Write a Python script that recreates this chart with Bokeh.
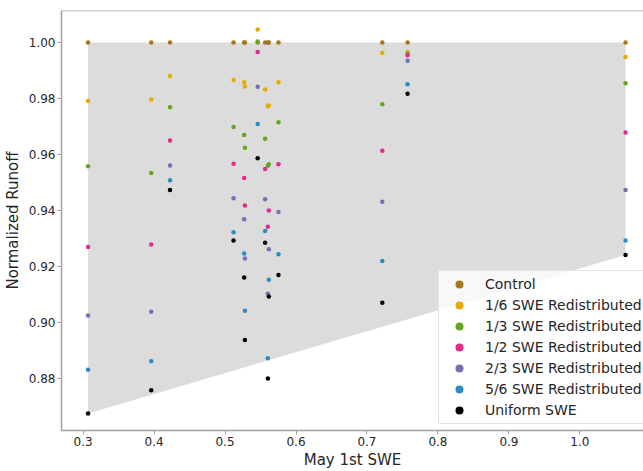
from bokeh.plotting import figure
from bokeh.models import Range1d, FixedTicker, Legend, LegendItem, Span
from bokeh.embed import file_html
from bokeh.resources import INLINE

# ---- data ----
may1_swe = [0.307, 0.396, 0.4225, 0.512, 0.527, 0.528, 0.546, 0.5565, 0.5603, 0.5617, 0.5753, 0.7216, 0.7572, 1.0643]
control = [1.0, 1.0, 1.0, 1.0, 1.0, 1.0, 1.0, 1.0, 1.0, 1.0, 1.0, 1.0, 1.0, 1.0]
swe_1_6 = [0.9791, 0.9796, 0.9880, 0.9866, 0.9858, 0.9843, 1.0046, 0.9832, 0.9772, 0.9775, 0.9858, 0.9962, 0.9966, 0.9948]
swe_1_3 = [0.9558, 0.9534, 0.9769, 0.9698, 0.9670, 0.9624, 1.0003, 0.9656, 0.9560, 0.9565, 0.9715, 0.9779, 0.9960, 0.9854]
swe_1_2 = [0.9270, 0.9279, 0.9650, 0.9567, 0.9516, 0.9418, 0.9966, 0.9548, 0.9342, 0.9400, 0.9565, 0.9613, 0.9954, 0.9679]
swe_2_3 = [0.9025, 0.9039, 0.9561, 0.9444, 0.9369, 0.9229, 0.9842, 0.9440, 0.9103, 0.9262, 0.9395, 0.9431, 0.9935, 0.9473]
swe_5_6 = [0.8832, 0.8862, 0.9508, 0.9323, 0.9247, 0.9042, 0.9709, 0.9327, 0.8873, 0.9153, 0.9244, 0.9220, 0.9851, 0.9293]
uniform = [0.8676, 0.8759, 0.9473, 0.9293, 0.9161, 0.8938, 0.9587, 0.9285, 0.8801, 0.9093, 0.9170, 0.9071, 0.9817, 0.9241]

series_names = ["Control", "1/6 SWE Redistributed", "1/3 SWE Redistributed",
                "1/2 SWE Redistributed", "2/3 SWE Redistributed",
                "5/6 SWE Redistributed", "Uniform SWE"]
series_values = [control, swe_1_6, swe_1_3, swe_1_2, swe_2_3, swe_5_6, uniform]
series_colors = ["#a6761d", "#e6ab02", "#66a61e", "#e7298a", "#7570b3", "#2b8cc4", "#000000"]

x_ticks = [0.3, 0.4, 0.5, 0.6, 0.7, 0.8, 0.9, 1.0]
x_tick_labels = ["0.3", "0.4", "0.5", "0.6", "0.7", "0.8", "0.9", "1.0"]
y_ticks = [0.88, 0.90, 0.92, 0.94, 0.96, 0.98, 1.00]
y_tick_labels = ["0.88", "0.90", "0.92", "0.94", "0.96", "0.98", "1.00"]

FONT = "DejaVu Sans"
SPINE = "#a0a0a0"
TXT = "#262626"

p = figure(width=643, height=471,
           x_range=Range1d(0.2696, 1.0896), y_range=Range1d(0.8615, 1.0114),
           output_backend="svg", toolbar_location=None,
           min_border_left=60, min_border_right=0, min_border_top=10, min_border_bottom=39)
p.background_fill_color = "white"
p.border_fill_color = "white"
p.outline_line_color = None
p.xgrid.visible = False
p.ygrid.visible = False

# shaded envelope between first/last site: Uniform (lower) to Control (upper)
p.varea(x=[may1_swe[0], may1_swe[-1]],
        y1=[uniform[0], uniform[-1]],
        y2=[control[0], control[-1]],
        fill_color="#dcdcdc", fill_alpha=1.0)

items = []
for name, vals, col in zip(series_names, series_values, series_colors):
    r = p.scatter(may1_swe, vals, size=4.5, fill_color=col, line_color=None)
    items.append(LegendItem(label=name, renderers=[r]))

# top spine
p.add_layout(Span(location=1.0114, dimension="width", line_color=SPINE, line_width=1.5))

for ax in (p.xaxis[0], p.yaxis[0]):
    ax.axis_line_color = SPINE
    ax.axis_line_width = 1.5
    ax.major_tick_line_color = SPINE
    ax.major_tick_in = 0
    ax.major_tick_out = 4
    ax.minor_tick_line_color = None
    ax.major_label_text_font = FONT
    ax.major_label_text_font_size = "12px"
    ax.major_label_text_color = TXT
    ax.axis_label_text_font = FONT
    ax.axis_label_text_font_size = "15px"
    ax.axis_label_text_font_style = "normal"
    ax.axis_label_text_color = TXT

p.xaxis.ticker = FixedTicker(ticks=x_ticks)
p.xaxis.major_label_overrides = {t: l for t, l in zip(x_ticks, x_tick_labels)}
p.yaxis.ticker = FixedTicker(ticks=y_ticks)
p.yaxis.major_label_overrides = {t: l for t, l in zip(y_ticks, y_tick_labels)}
p.xaxis.axis_label = "May 1st SWE"
p.yaxis.axis_label = "Normalized Runoff"
p.xaxis.major_label_standoff = 2
p.xaxis.axis_label_standoff = 2
p.yaxis.major_label_standoff = 2
p.yaxis.axis_label_standoff = 4

legend = Legend(items=items, location=(377, 6),
                label_text_font=FONT, label_text_font_size="14px", label_text_color=TXT,
                glyph_width=34, glyph_height=20, label_height=20, label_standoff=9,
                spacing=1, padding=3, margin=0,
                border_line_color="#cccccc", border_line_width=1,
                background_fill_color="white", background_fill_alpha=0.8)
p.add_layout(legend)

open("out.html", "w").write(file_html(p, INLINE))
